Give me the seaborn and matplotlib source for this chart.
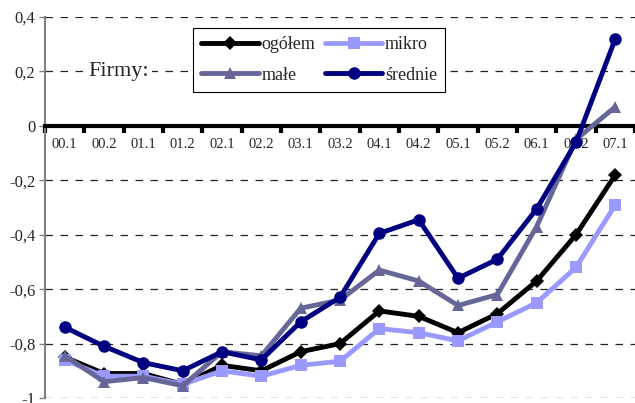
import matplotlib
matplotlib.use("Agg")
import matplotlib.pyplot as plt
import seaborn as sns
import pandas as pd

periods = ["00.1", "00.2", "01.1", "01.2", "02.1", "02.2", "03.1", "03.2",
           "04.1", "04.2", "05.1", "05.2", "06.1", "06.2", "07.1"]
ogolem = [-0.85, -0.91, -0.91, -0.95, -0.88, -0.90, -0.83, -0.80,
          -0.68, -0.70, -0.76, -0.69, -0.57, -0.40, -0.18]
mikro = [-0.86, -0.92, -0.92, -0.95, -0.90, -0.92, -0.88, -0.865,
         -0.745, -0.76, -0.79, -0.72, -0.65, -0.52, -0.29]
male = [-0.845, -0.94, -0.925, -0.955, -0.83, -0.845, -0.67, -0.64,
        -0.53, -0.57, -0.66, -0.62, -0.37, -0.05, 0.07]
srednie = [-0.74, -0.81, -0.87, -0.90, -0.83, -0.86, -0.72, -0.63,
           -0.395, -0.345, -0.56, -0.49, -0.305, -0.06, 0.32]

series_names = ["ogółem", "mikro", "małe", "średnie"]
series_values = [ogolem, mikro, male, srednie]
colors = ["#000000", "#9999FF", "#666699", "#000080"]
markers = ["D", "s", "^", "o"]
msizes = [7, 8, 9, 9]

sns.set_theme(style="white")
plt.rcParams["font.family"] = ["Liberation Serif", "DejaVu Serif"]

fig = plt.figure(figsize=(6.35, 4.03), dpi=100)
ax = fig.add_axes([0.071, 0.0124, 0.929, 0.9454])

rows = []
for name, vals in zip(series_names, series_values):
    for i, v in enumerate(vals):
        rows.append({"series": name, "idx": i, "value": v})
df = pd.DataFrame(rows)

for name, c, m, ms in zip(series_names, colors, markers, msizes):
    sub = df[df["series"] == name]
    sns.lineplot(data=sub, x="idx", y="value", ax=ax, color=c, marker=m,
                 markersize=ms, markeredgewidth=0, linewidth=3.5,
                 label=name, zorder=3)

ax.set_xlim(-0.5, len(periods) - 0.5)
ax.set_ylim(-1, 0.4)
ax.set_xlabel("")
ax.set_ylabel("")

# x axis sits on the zero line
ax.spines["bottom"].set_position(("data", 0))
ax.spines["bottom"].set_linewidth(3)
ax.spines["bottom"].set_color("black")
ax.spines["top"].set_visible(False)
ax.spines["right"].set_visible(False)
ax.spines["left"].set_color("#808080")
ax.spines["left"].set_linewidth(1.5)

ax.set_xticks(range(len(periods)))
ax.set_xticklabels(periods, fontsize=10.5)
ax.set_xticks([i - 0.5 for i in range(len(periods) + 1)], minor=True)
ax.tick_params(axis="x", which="major", length=0, pad=9)
ax.tick_params(axis="x", which="minor", length=5, width=3, color="black",
               direction="out", bottom=True)

yt = [0.4, 0.2, 0, -0.2, -0.4, -0.6, -0.8, -1]
ax.set_yticks(yt)
ax.set_yticklabels([f"{v:g}".replace(".", ",") for v in yt], fontsize=12)
ax.tick_params(axis="y", length=4, width=1, color="#808080", left=True, pad=3)

ax.yaxis.grid(True, linestyle=(0, (6, 6)), color="#222222", linewidth=0.9)
ax.xaxis.grid(False)

ax.text(0.61, 0.2, "Firmy:", fontsize=16, ha="left", va="center",
        bbox=dict(facecolor="white", edgecolor="none", pad=2), zorder=2.6)

handles, labels = ax.get_legend_handles_labels()
order = [0, 2, 1, 3]
leg = ax.legend([handles[i] for i in order], [labels[i] for i in order],
                ncol=2, loc="upper left", bbox_to_anchor=(0.251, 0.971),
                borderaxespad=0, fancybox=False, framealpha=1,
                edgecolor="black", fontsize=13, handlelength=3.2,
                handletextpad=0.15, columnspacing=0.5, borderpad=0.45,
                labelspacing=0.75)
leg.get_frame().set_linewidth(0.8)
leg.set_zorder(4)

fig.savefig("out.png", dpi=100)
